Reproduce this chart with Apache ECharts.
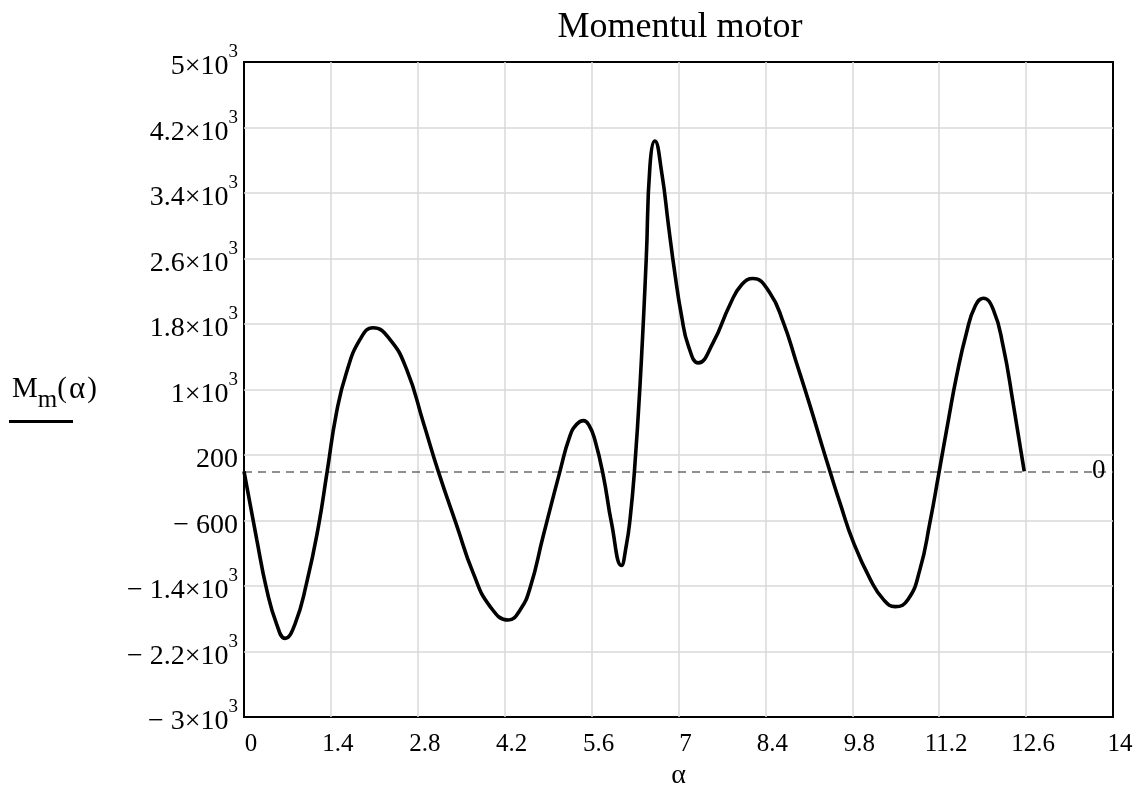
<!DOCTYPE html>
<html><head><meta charset="utf-8">
<script src="https://cdn.jsdelivr.net/npm/echarts@6/dist/echarts.min.js"></script>
<style>html,body{margin:0;padding:0;background:#fff}#c{width:1138px;height:803px}</style>
</head><body><div id="c"></div>
<script>
const alpha = [0, 0.205, 0.365, 0.527, 0.66, 0.82, 1.01, 1.20, 1.34, 1.49, 1.65, 1.87, 2.08, 2.35, 2.62, 2.89, 3.13, 3.43, 3.69, 3.96, 4.26, 4.45, 4.61, 4.82, 5.09, 5.25, 5.36, 5.47, 5.56, 5.65, 5.79, 5.92, 6.08, 6.16, 6.22, 6.29, 6.38, 6.48, 6.54, 6.62, 6.73, 6.84, 6.94, 7.05, 7.16, 7.32, 7.56, 7.83, 8.02, 8.20, 8.47, 8.69, 8.90, 9.12, 9.33, 9.44, 9.60, 9.82, 10.09, 10.30, 10.49, 10.70, 10.89, 11.05, 11.20, 11.35, 11.48, 11.64, 11.78, 11.91, 12.07, 12.23, 12.39, 12.57];
const moment = [0, -830, -1441, -1868, -2040, -1868, -1359, -668, 0, 717, 1205, 1612, 1755, 1612, 1245, 595, 0, -668, -1237, -1645, -1815, -1690, -1420, -790, 0, 431, 575, 620, 560, 391, -57, -627, -1150, -900, -580, 0, 1050, 2588, 3728, 4035, 3647, 2995, 2426, 1896, 1530, 1325, 1575, 2039, 2283, 2355, 2182, 1816, 1327, 800, 270, 0, -382, -871, -1319, -1563, -1652, -1563, -1197, -627, 0, 635, 1164, 1694, 2019, 2115, 1978, 1530, 839, 0];
const xTickLabels = ['0', '1.4', '2.8', '4.2', '5.6', '7', '8.4', '9.8', '11.2', '12.6', '14'];
const yTickLabels = ['\u2212 3\u00d710^3', '\u2212 2.2\u00d710^3', '\u2212 1.4\u00d710^3', '\u2212 600', '200', '1\u00d710^3', '1.8\u00d710^3', '2.6\u00d710^3', '3.4\u00d710^3', '4.2\u00d710^3', '5\u00d710^3'];
const titleText = 'Momentul motor';
const xName = '\u03b1';
const zeroLabel = '0';

const FONT = '"Liberation Serif", "Times New Roman", serif';
const X_MIN = 0, X_MAX = 14, X_STEP = 1.4;
const Y_MIN = -3000, Y_MAX = 5000, Y_STEP = 800;

const chart = echarts.init(document.getElementById('c'), null, {renderer: 'canvas'});
const pts = alpha.map((a, i) => [a, moment[i]]);

chart.setOption({
  animation: false,
  backgroundColor: '#fff',
  title: {
    text: titleText,
    left: 675, top: 5, textAlign: 'center',
    textStyle: {fontFamily: FONT, fontSize: 36, fontWeight: 'normal', color: '#000'}
  },
  grid: {left: 244, right: 25, top: 62, bottom: 86, show: true, borderColor: '#000', borderWidth: 2, backgroundColor: 'transparent'},
  xAxis: {
    type: 'value', min: X_MIN, max: X_MAX, interval: X_STEP,
    name: xName, nameLocation: 'middle', nameGap: 41,
    nameTextStyle: {fontFamily: FONT, fontSize: 28, color: '#000'},
    axisLine: {show: false}, axisTick: {show: false},
    splitLine: {show: true, showMinLine: false, showMaxLine: false, lineStyle: {color: '#d9d9d9', width: 1.5}},
    axisLabel: {
      fontFamily: FONT, fontSize: 25, color: '#000', margin: 15, padding: [0, 0, 0, 14],
      showMinLabel: true, showMaxLabel: true,
      formatter: (v) => xTickLabels[Math.round((v - X_MIN) / X_STEP)]
    }
  },
  yAxis: {
    type: 'value', min: Y_MIN, max: Y_MAX, interval: Y_STEP,
    axisLine: {show: false}, axisTick: {show: false},
    splitLine: {show: true, showMinLine: false, showMaxLine: false, lineStyle: {color: '#d9d9d9', width: 1.5}},
    axisLabel: {
      margin: 6, showMinLabel: true, showMaxLabel: true,
      formatter: (v) => {
        const s = yTickLabels[Math.round((v - Y_MIN) / Y_STEP)];
        const parts = s.split('^');
        return parts.length > 1 ? '{b|' + parts[0] + '}{s|' + parts[1] + '}' : '{b|' + parts[0] + '}';
      },
      rich: {
        b: {fontFamily: FONT, fontSize: 28, color: '#000', lineHeight: 28, padding: [10, 0, 0, 0]},
        s: {fontFamily: FONT, fontSize: 19, color: '#000', lineHeight: 19, padding: [0, 0, 19, 0]}
      }
    }
  },
  series: [{
    type: 'line', data: pts, showSymbol: false, smooth: 0.5,
    lineStyle: {color: '#000', width: 3.6},
    z: 5,
    markLine: {
      silent: true, symbol: ['none', 'none'],
      lineStyle: {color: '#6b6b6b', type: [8, 6], width: 1.5},
      label: {show: false},
      data: [{yAxis: 0}]
    },
    markPoint: {
      silent: true,
      data: [{coord: [13.77, 0], symbol: 'circle', symbolSize: 1, itemStyle: {color: 'rgba(0,0,0,0)'},
        label: {show: true, position: 'inside', formatter: zeroLabel, fontFamily: FONT, fontSize: 27, color: '#000'}}]
    }
  }],
  graphic: [
    {type: 'text', left: 12, top: 374, style: {
      text: '{a|M}{m|m}{a|(}{g|\u03b1}{a|)}',
      rich: {
        a: {fontFamily: FONT, fontSize: 29, fill: '#000', lineHeight: 29, padding: [0, 0, 9, 0]},
        g: {fontFamily: FONT, fontSize: 31, fill: '#000', lineHeight: 29, padding: [0, 2, 9, 2]},
        m: {fontFamily: FONT, fontSize: 25, fill: '#000', lineHeight: 25, padding: [13, 0, 0, 0]}
      }
    }},
    {type: 'rect', left: 9, top: 420, shape: {width: 64, height: 3}, style: {fill: '#000'}}
  ]
});
</script>
</body></html>
